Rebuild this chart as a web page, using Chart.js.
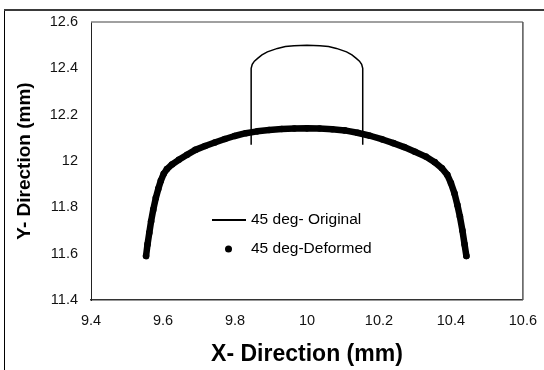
<!DOCTYPE html>
<html>
<head>
<meta charset="utf-8">
<script src="https://cdn.jsdelivr.net/npm/chart.js@4/dist/chart.umd.min.js"></script>
<style>
  html, body { margin: 0; padding: 0; background: #fff; }
  #wrap { position: relative; width: 544px; height: 370px; }
</style>
</head>
<body>
<div id="wrap"><canvas id="shape-chart" width="544" height="370"></canvas></div>
<script>
const legendLabels = ["45 deg- Original", "45 deg-Deformed"];

// original profile (mm)
const originalX = [9.845, 9.845, 9.848, 9.854, 9.863, 9.875, 9.890, 9.918, 9.940, 9.964, 10.000,
                   10.036, 10.060, 10.082, 10.110, 10.125, 10.137, 10.146, 10.152, 10.155, 10.155];
const originalY = [12.07, 12.400, 12.417, 12.431, 12.443, 12.458, 12.471, 12.486, 12.494, 12.498, 12.500,
                   12.498, 12.494, 12.486, 12.471, 12.458, 12.443, 12.431, 12.417, 12.400, 12.07];

// deformed profile (mm)
const deformedX = [9.553, 9.557, 9.562, 9.567, 9.573, 9.580, 9.587, 9.594, 9.602, 9.611,
                   9.625, 9.644, 9.667, 9.690, 9.717, 9.744, 9.772, 9.799, 9.830, 9.862,
                   9.895, 9.930, 9.965, 10.000, 10.035, 10.070, 10.105, 10.140, 10.175, 10.210,
                   10.240, 10.270, 10.300, 10.330, 10.355, 10.375, 10.390, 10.400, 10.410, 10.418,
                   10.425, 10.432, 10.438, 10.443];
const deformedY = [11.59, 11.64, 11.69, 11.74, 11.79, 11.84, 11.88, 11.915, 11.945, 11.965,
                   11.985, 12.005, 12.027, 12.048, 12.065, 12.080, 12.095, 12.108, 12.120, 12.128,
                   12.134, 12.138, 12.140, 12.141, 12.140, 12.137, 12.132, 12.122, 12.109, 12.093,
                   12.077, 12.060, 12.040, 12.019, 11.995, 11.969, 11.940, 11.905, 11.860, 11.810,
                   11.760, 11.700, 11.640, 11.590];

const xTicks = [9.4, 9.6, 9.8, 10, 10.2, 10.4, 10.6];
const yTicks = [11.4, 11.6, 11.8, 12, 12.2, 12.4, 12.6];

const toPoints = (xs, ys) => xs.map((x, i) => ({ x: x, y: ys[i] }));

const FONT = "'Liberation Sans', Arial, sans-serif";

// outer frame, plot box and in-plot legend
const decorations = {
  id: "decorations",
  beforeDraw(chart) {
    const ctx = chart.ctx;
    ctx.save();
    ctx.strokeStyle = "#000";
    ctx.lineWidth = 1;
    ctx.beginPath();
    ctx.moveTo(4.5, 370);
    ctx.lineTo(4.5, 10);
    ctx.stroke();
    ctx.strokeStyle = "#3a3a3a";
    ctx.lineWidth = 2;
    ctx.beginPath();
    ctx.moveTo(4, 10);
    ctx.lineTo(544, 10);
    ctx.stroke();
    ctx.restore();
  },
  afterDraw(chart) {
    const { ctx, chartArea: a } = chart;
    ctx.save();
    ctx.strokeStyle = "#808080";
    ctx.lineWidth = 1.5;
    ctx.beginPath();
    ctx.moveTo(a.left, a.top);
    ctx.lineTo(a.right, a.top);
    ctx.stroke();
    ctx.strokeStyle = "#555";
    ctx.beginPath();
    ctx.moveTo(a.right, a.top);
    ctx.lineTo(a.right, a.bottom);
    ctx.stroke();

    ctx.fillStyle = "#000";
    ctx.strokeStyle = "#000";
    ctx.font = "15.5px " + FONT;
    ctx.textBaseline = "middle";
    ctx.lineWidth = 2;
    ctx.beginPath();
    ctx.moveTo(212, 220);
    ctx.lineTo(246, 220);
    ctx.stroke();
    ctx.fillText(legendLabels[0], 251, 220);
    ctx.beginPath();
    ctx.arc(228.5, 249, 3.5, 0, Math.PI * 2);
    ctx.fill();
    ctx.fillText(legendLabels[1], 251, 249);
    ctx.restore();
  }
};

new Chart(document.getElementById("shape-chart"), {
  type: "scatter",
  data: {
    datasets: [
      {
        label: legendLabels[0],
        data: toPoints(originalX, originalY),
        showLine: true,
        borderColor: "#000",
        borderWidth: 1.5,
        pointRadius: 0,
        order: 0
      },
      {
        label: legendLabels[1],
        data: toPoints(deformedX, deformedY),
        showLine: true,
        borderColor: "#000",
        backgroundColor: "#000",
        borderWidth: 6.5,
        borderCapStyle: "round",
        borderJoinStyle: "round",
        pointRadius: 3.3,
        pointBorderWidth: 0,
        order: 1
      }
    ]
  },
  options: {
    responsive: false,
    animation: false,
    layout: { padding: { top: 22, right: 15, left: 0, bottom: 0 } },
    plugins: {
      legend: { display: false },
      tooltip: { enabled: false }
    },
    scales: {
      x: {
        type: "linear",
        min: 9.4,
        max: 10.6,
        afterBuildTicks: s => { s.ticks = xTicks.map(v => ({ value: v })); },
        afterFit: s => { s.height = 70; },
        grid: { display: false, drawOnChartArea: false, drawTicks: true, tickLength: 5, tickColor: "#333" },
        border: { display: true, color: "#333", width: 1.5 },
        ticks: {
          color: "#111",
          font: { family: FONT, size: 14.5 },
          padding: 7,
          maxRotation: 0,
          callback: v => String(v)
        },
        title: {
          display: true,
          text: "X- Direction (mm)",
          color: "#000",
          font: { family: FONT, size: 23, weight: "bold" },
          padding: { top: 0, bottom: 2 }
        }
      },
      y: {
        type: "linear",
        min: 11.4,
        max: 12.6,
        afterBuildTicks: s => { s.ticks = yTicks.map(v => ({ value: v })); },
        afterFit: s => { s.width = 91; },
        grid: { display: false, drawOnChartArea: false, drawTicks: true, tickLength: 5, tickColor: "#222" },
        border: { display: true, color: "#222", width: 1 },
        ticks: {
          color: "#111",
          font: { family: FONT, size: 14.5 },
          padding: 8,
          callback: v => String(v)
        },
        title: {
          display: true,
          text: "Y- Direction (mm)",
          color: "#000",
          font: { family: FONT, size: 19, weight: "bold" },
          padding: { top: 13, bottom: 0 }
        }
      }
    }
  },
  plugins: [decorations]
});
</script>
</body>
</html>
